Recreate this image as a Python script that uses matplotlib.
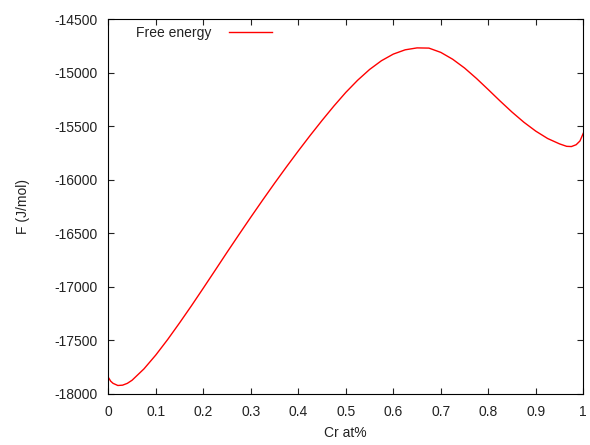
import numpy as np
import matplotlib.pyplot as plt

plt.rcParams['font.family'] = ['Liberation Sans', 'DejaVu Sans']
plt.rcParams['axes.unicode_minus'] = False

# free energy vs Cr content
cr = [0.00, 0.005, 0.01, 0.02, 0.03, 0.04, 0.05, 0.075, 0.10, 0.125, 0.15,
      0.175, 0.20, 0.225, 0.25, 0.275, 0.30, 0.325, 0.35, 0.375, 0.40, 0.425,
      0.45, 0.475, 0.50, 0.525, 0.55, 0.575, 0.60, 0.625, 0.65, 0.675, 0.70,
      0.725, 0.75, 0.775, 0.80, 0.825, 0.85, 0.875, 0.90, 0.925, 0.95, 0.965,
      0.975, 0.985, 0.993, 1.00]
energy = [-17849, -17885, -17905, -17925, -17922, -17905, -17876, -17770,
          -17640, -17495, -17340, -17180, -17015, -16848, -16680, -16515,
          -16352, -16192, -16035, -15882, -15733, -15588, -15448, -15313,
          -15186, -15072, -14972, -14890, -14828, -14788, -14770, -14772,
          -14812, -14876, -14958, -15055, -15160, -15267, -15370, -15465,
          -15548, -15617, -15667, -15690, -15692, -15675, -15640, -15568]

xticks = np.arange(0, 1.01, 0.1)
xticklabels = ['0', '0.1', '0.2', '0.3', '0.4', '0.5', '0.6', '0.7', '0.8', '0.9', '1']
yticks = np.arange(-18000, -14499, 500)

fig = plt.figure(figsize=(5.9, 4.45), dpi=100)
ax = fig.add_axes([0.1836, 0.1157, 0.8050, 0.8416])

ax.plot(cr, energy, color='red', linewidth=1.0, label='Free energy')

ax.set_xlim(0, 1)
ax.set_ylim(-18000, -14500)
ax.set_xticks(xticks)
ax.set_xticklabels(xticklabels)
ax.set_yticks(yticks)
ax.tick_params(direction='in', length=4, width=0.8, top=True, right=True,
               labelsize=10, pad=8, colors='#222222')
for sp in ax.spines.values():
    sp.set_linewidth(0.8)
    sp.set_color('black')

ax.set_xlabel('Cr at%', fontsize=10, color='#222222', labelpad=5)
ax.set_ylabel('F (J/mol)', fontsize=10, color='#222222', labelpad=17)

ax.legend(loc='upper left', bbox_to_anchor=(0.058, 0.982), frameon=False,
          markerfirst=False, fontsize=10, handlelength=3.1, handletextpad=1.3,
          borderpad=0, borderaxespad=0, labelcolor='#222222')

fig.savefig('out.png', dpi=100)
